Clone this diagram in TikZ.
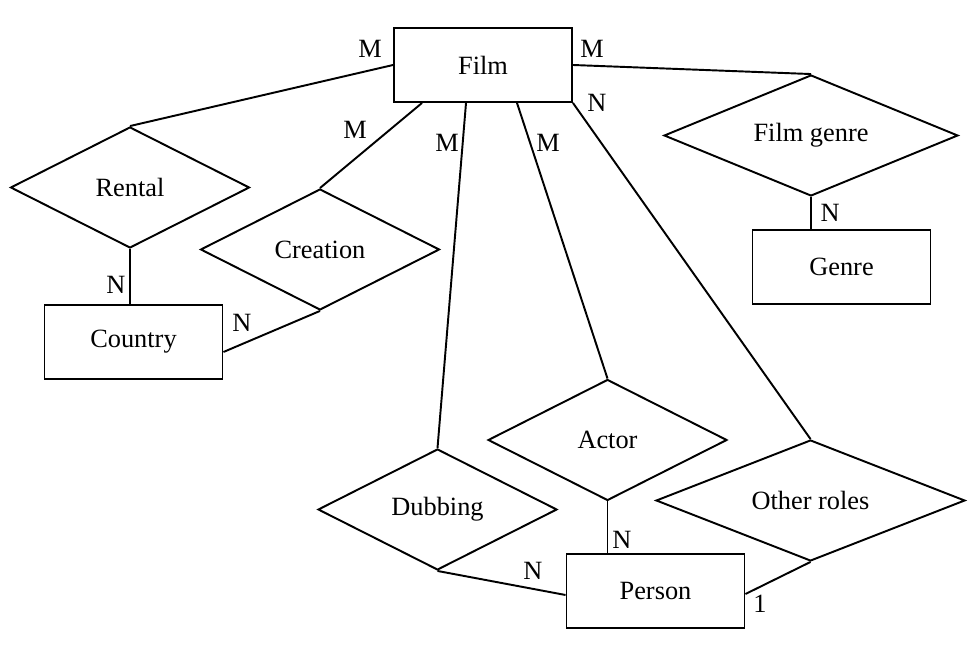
\documentclass[tikz,border=0pt]{standalone}
\usepackage{fontspec}
\setmainfont{Liberation Serif}
\usetikzlibrary{shapes.geometric}

\tikzset{
	entity/.style={draw, line width=1.1pt, minimum width=3.56cm, minimum height=1.48cm, inner sep=0pt},
	relation/.style={draw, diamond, aspect=3, line width=1.1pt, minimum width=4.78cm, minimum height=2.42cm, inner sep=0pt},
	link/.style={line width=1.1pt},
	card/.style={inner sep=0pt}
}

\begin{document}
\begin{tikzpicture}[x=0.02cm, y=-0.02cm, font=\fontsize{15}{18}\selectfont]
			%%%%% START %%%%%
			\useasboundingbox (0, 0) rectangle (969, 661);
			
			\node[entity] (film) at (483, 65) {Film};
			\node[entity] (country) at (133.5, 342) {Country};
			\node[entity] (genre) at (841.5, 267) {Genre};
			\node[entity] (person) at (655.5, 591) {Person};
			
			\node[relation] (rental) at (130, 187.5) {Rental};
			\node[relation] (creation) at (320, 249.5) {Creation};
			\node[relation, minimum width=5.88cm] (filmgenre) at (811, 135.5) {Film genre};
			\node[relation] (actor) at (607.5, 440) {Actor};
			\node[relation] (dubbing) at (437.5, 509.5) {Dubbing};
			\node[relation, minimum width=6.18cm] (otherroles) at (810.5, 500.5) {Other roles};
			
			\draw[link] (film.west) -- (rental.north);
			\draw[link] ([xshift=-1.22cm]film.south) -- (creation.north);
			\draw[link] ([xshift=-0.34cm]film.south) -- (dubbing.north);
			\draw[link] ([xshift=0.68cm]film.south) -- (actor.north);
			\draw[link] (film.south east) -- (otherroles.north);
			\draw[link] (film.east) -- (filmgenre.north);
			\draw[link] (filmgenre.south) -- (filmgenre.south |- genre.north);
			\draw[link] (rental.south) -- (rental.south |- country.north);
			\draw[link] (creation.south) -- ([yshift=-0.2cm]country.east);
			\draw[link] (dubbing.south) -- ([yshift=-0.08cm]person.west);
			\draw[link] (actor.south) -- (actor.south |- person.north);
			\draw[link] (otherroles.south) -- ([yshift=-0.06cm]person.east);
			
			\node[card] (mrental) at (370, 49) {M};
			\node[card] (mcreation) at (355, 130) {M};
			\node[card] (mdubbing) at (447, 143) {M};
			\node[card] (mactor) at (548, 143) {M};
			\node[card] (nother) at (597, 103) {N};
			\node[card] (mgenre) at (592, 49) {M};
			\node[card] (ngenre) at (830, 213) {N};
			\node[card] (nrental) at (116, 285) {N};
			\node[card] (ncreation) at (242, 323) {N};
			\node[card] (ndubbing) at (533, 571) {N};
			\node[card] (nactor) at (622, 540) {N};
			\node[card] (oneother) at (760, 604) {1};
			%%%%% END %%%%%
\end{tikzpicture}
\end{document}
